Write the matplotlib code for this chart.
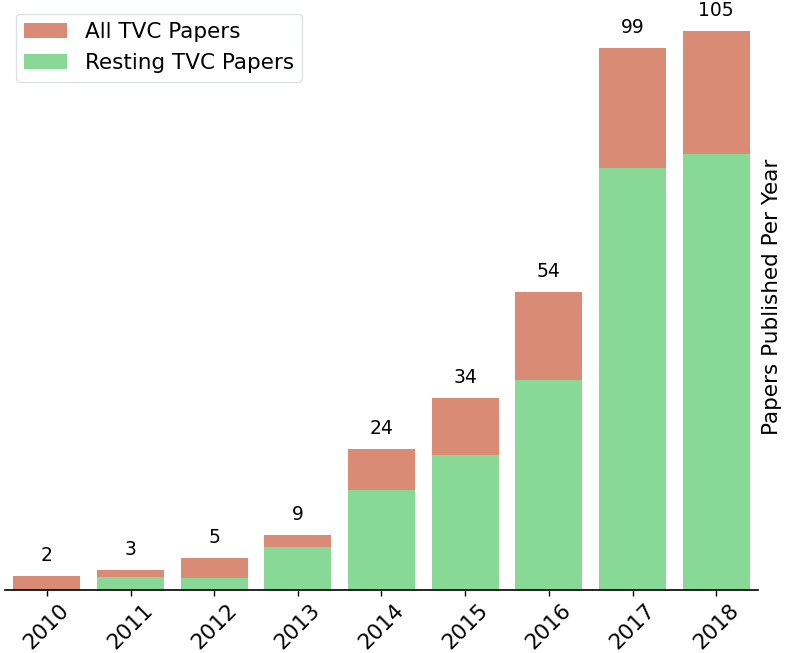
import matplotlib
matplotlib.use("Agg")
import matplotlib.pyplot as plt
import numpy as np

years = ["2010", "2011", "2012", "2013", "2014", "2015", "2016", "2017", "2018"]
label_counts = [2, 3, 5, 9, 24, 34, 54, 99, 105]
# bar heights as drawn
all_heights = [2.69, 3.76, 6.01, 10.33, 26.48, 36.06, 55.97, 101.8, 105.0]
resting_heights = [0.0, 2.44, 2.25, 8.08, 18.78, 25.36, 39.44, 79.26, 81.9]

c_all = "#DA8B76"
c_rest = "#88D996"

fig = plt.figure(figsize=(7.89, 6.53), dpi=100)
ax = fig.add_axes([5/789, 1 - 590/653, (758 - 5)/789, (590 - 3)/653])

x = np.arange(len(years))
ax.bar(x, all_heights, width=0.8, color=c_all, label="All TVC Papers")
ax.bar(x, resting_heights, width=0.8, color=c_rest, label="Resting TVC Papers")

for xi, h, lab in zip(x, all_heights, label_counts):
    ax.text(xi, h + 2.0, str(lab), ha="center", va="bottom", fontsize=13.5)

ax.set_xlim(-0.5, len(years) - 0.5)
ax.set_ylim(0, 110.25)
ax.set_xticks(x)
ax.set_xticklabels(years, rotation=45, fontsize=15.5)
ax.tick_params(axis="y", left=False, labelleft=False)
ax.tick_params(axis="x", length=4, width=1)
for s in ["left", "top", "right"]:
    ax.spines[s].set_visible(False)
ax.spines["bottom"].set_linewidth(1.2)

ax.yaxis.set_label_position("right")
ax.set_ylabel("Papers Published Per Year", fontsize=15.5, labelpad=3)

leg = ax.legend(loc="upper left", fontsize=15.5, frameon=True, bbox_to_anchor=(0.0, 1.0))
leg.get_frame().set_edgecolor("#D5D9DE")

fig.savefig("out.png", dpi=100)
